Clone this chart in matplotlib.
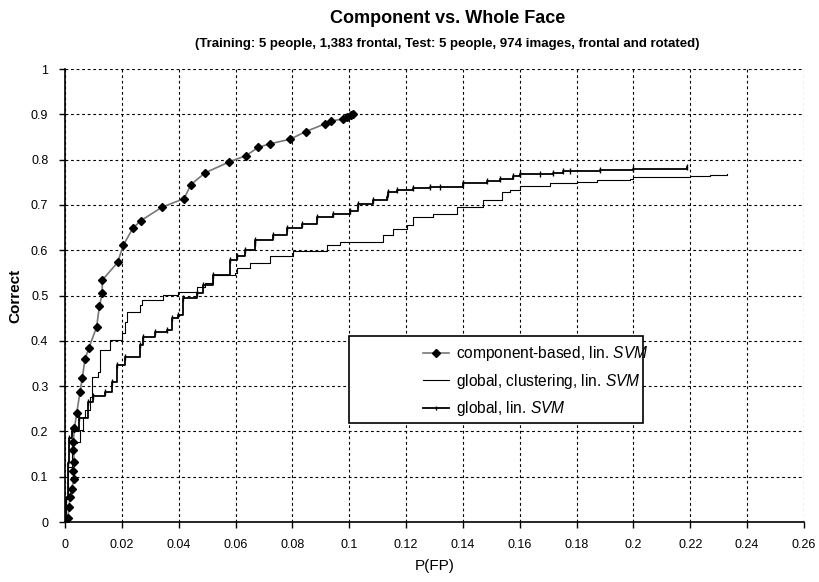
import numpy as np
import matplotlib
matplotlib.use("Agg")
import matplotlib.pyplot as plt
from matplotlib.patches import Rectangle
from matplotlib.ticker import FuncFormatter

plt.rcParams['font.family'] = ['Liberation Sans', 'DejaVu Sans']
plt.rcParams['mathtext.fontset'] = 'custom'
plt.rcParams['mathtext.it'] = 'Liberation Sans:italic'
plt.rcParams['mathtext.rm'] = 'Liberation Sans'

# component-based, lin. SVM (diamond markers)
comp_fp = [0.0, 0.001, 0.0014, 0.0018, 0.0023, 0.0033, 0.0029, 0.0033, 0.0029, 0.0029,
           0.0033, 0.0041, 0.0053, 0.0061, 0.0070, 0.0084, 0.0111, 0.0121, 0.0131,
           0.0131, 0.0185, 0.0205, 0.0238, 0.0266, 0.0341, 0.0419, 0.0443, 0.0493,
           0.0578, 0.0637, 0.068, 0.0721, 0.0792, 0.0847, 0.0915, 0.0935, 0.0979,
           0.0991, 0.1005, 0.1012]
comp_cor = [0.0, 0.01, 0.033, 0.056, 0.074, 0.096, 0.113, 0.133, 0.16, 0.177,
            0.207, 0.240, 0.288, 0.319, 0.359, 0.385, 0.430, 0.477, 0.505,
            0.534, 0.573, 0.611, 0.648, 0.665, 0.695, 0.714, 0.745, 0.771,
            0.795, 0.809, 0.827, 0.835, 0.845, 0.862, 0.879, 0.885, 0.890,
            0.893, 0.898, 0.900]

# global, clustering, lin. SVM (thin line)
clus_fp = [0.0, 0.0005, 0.0012, 0.0023, 0.0041, 0.0053, 0.0064, 0.007, 0.0088, 0.0094,
           0.0117, 0.0123, 0.0158, 0.0199, 0.0211, 0.0217, 0.0264, 0.027, 0.0346,
           0.0399, 0.0463, 0.0493, 0.0522, 0.0598, 0.0604, 0.0651, 0.0721, 0.0803,
           0.0921, 0.0968, 0.112, 0.1155, 0.1202, 0.1225, 0.1296, 0.1378, 0.1472,
           0.1536, 0.1566, 0.1601, 0.1706, 0.18, 0.1871, 0.1988, 0.2, 0.2093,
           0.2199, 0.2269, 0.2328]
clus_cor = [0.0, 0.05, 0.122, 0.174, 0.177, 0.203, 0.232, 0.247, 0.277, 0.321,
            0.332, 0.38, 0.402, 0.417, 0.442, 0.464, 0.479, 0.49, 0.501,
            0.508, 0.518, 0.527, 0.545, 0.549, 0.56, 0.571, 0.587, 0.598,
            0.611, 0.619, 0.634, 0.646, 0.656, 0.674, 0.681, 0.696, 0.711,
            0.729, 0.734, 0.742, 0.748, 0.751, 0.755, 0.757, 0.761, 0.762,
            0.764, 0.767, 0.768]

# global, lin. SVM (small tick markers)
glob_fp = [0.0, 0.0005, 0.001, 0.0015, 0.0025, 0.005, 0.0082, 0.01, 0.0141, 0.0164,
           0.0182, 0.0211, 0.0264, 0.0276, 0.0317, 0.0358, 0.0375, 0.0399, 0.0416,
           0.0463, 0.0487, 0.0522, 0.058, 0.0604, 0.0633, 0.0668, 0.0668, 0.0733,
           0.078, 0.0833, 0.0886, 0.0944, 0.1003, 0.1032, 0.1085, 0.1132, 0.1138,
           0.1167, 0.1225, 0.1284, 0.1319, 0.1401, 0.1483, 0.153, 0.1577, 0.1601,
           0.1671, 0.1718, 0.1753, 0.1777, 0.1882, 0.2, 0.2187]
glob_cor = [0.0, 0.05, 0.13, 0.185, 0.2, 0.229, 0.266, 0.279, 0.288, 0.31,
            0.347, 0.365, 0.391, 0.408, 0.42, 0.424, 0.45, 0.457, 0.494,
            0.505, 0.523, 0.545, 0.578, 0.587, 0.600, 0.615, 0.622, 0.634,
            0.65, 0.659, 0.674, 0.681, 0.687, 0.703, 0.711, 0.718, 0.729,
            0.734, 0.737, 0.739, 0.740, 0.748, 0.753, 0.757, 0.764, 0.768,
            0.768, 0.770, 0.775, 0.776, 0.777, 0.779, 0.784]

x_ticks = np.arange(0, 0.261, 0.02)
y_ticks = np.arange(0, 1.01, 0.1)

fig = plt.figure(figsize=(8.19, 5.82), dpi=100)
ax = fig.add_axes([0.0794, 0.103, 0.9023, 0.7784])

ax.plot(comp_fp, comp_cor, color='#777777', lw=1.2, marker='D', ms=4.5,
        mfc='black', mec='black', zorder=4,
        label='component-based, lin. $\\mathit{SVM}$')
ax.plot(clus_fp, clus_cor, color='black', lw=0.8, drawstyle='steps-post', zorder=3,
        label='global, clustering, lin. $\\mathit{SVM}$')
ax.plot(glob_fp, glob_cor, color='black', lw=1.3, drawstyle='steps-post',
        marker='|', ms=4, mew=1, zorder=3,
        label='global, lin. $\\mathit{SVM}$')

ax.set_xlim(0, 0.26)
ax.set_ylim(0, 1)
ax.set_xticks(x_ticks)
ax.set_yticks(y_ticks)
ax.xaxis.set_major_formatter(FuncFormatter(lambda v, p: '%g' % round(v, 2)))
ax.yaxis.set_major_formatter(FuncFormatter(lambda v, p: '%g' % round(v, 1)))
ax.tick_params(direction='out', length=4, width=1, labelsize=9, pad=8)
ax.grid(True, color='black', linestyle=(0, (2.5, 2.5)), linewidth=0.8)
ax.set_axisbelow(True)
for s in ['top', 'right']:
    ax.spines[s].set_visible(False)
for s in ['left', 'bottom']:
    ax.spines[s].set_linewidth(1.2)

ax.set_xlabel('P(FP)', fontsize=11, labelpad=6)
ax.set_ylabel('Correct', fontsize=11, fontweight='bold', labelpad=6)

# legend frame drawn separately so entries can sit to the right as in the original
box = Rectangle((0.384, 0.2185), 0.398, 0.192, transform=ax.transAxes,
                facecolor='white', edgecolor='black', lw=1.2, zorder=5)
ax.add_patch(box)
leg = ax.legend(loc='upper left', bbox_to_anchor=(0.484, 0.393),
                fontsize=11.2, frameon=False, handlelength=1.7,
                handletextpad=0.45, borderaxespad=0, labelspacing=0.55,
                borderpad=0, markerscale=0.8)
leg.set_zorder(6)

fig.text(0.546, 0.968, 'Component vs. Whole Face', ha='center', va='center',
         fontsize=13, fontweight='bold')
fig.text(0.546, 0.924, '(Training: 5 people, 1,383 frontal, Test: 5 people, 974 images, frontal and rotated)',
         ha='center', va='center', fontsize=9.5, fontweight='bold')

fig.savefig('out.png', dpi=100)
